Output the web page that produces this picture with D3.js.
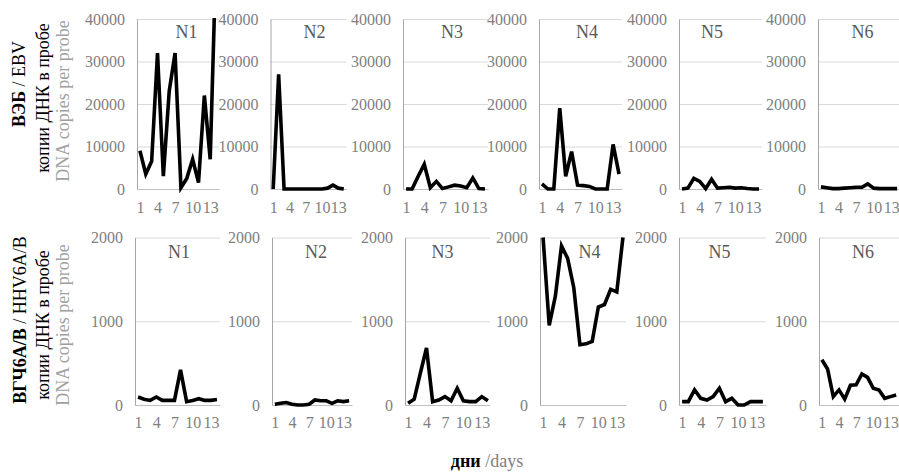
<!DOCTYPE html>
<html>
<head>
<meta charset="utf-8">
<script src="https://cdn.jsdelivr.net/npm/d3@7"></script>
<style>
body{margin:0;background:#fff;}
svg text{font-family:"Liberation Serif","DejaVu Serif","Noto Serif",serif;}
</style>
</head>
<body>
<svg id="chart" width="899" height="472"></svg>
<script>
// дни наблюдения
var days = [1,2,3,4,5,6,7,8,9,10,11,12,13,14];
var dayTicks = [1,4,7,10,13];
var panelNames = ["N1","N2","N3","N4","N5","N6"];
var serif = "'Liberation Serif', 'DejaVu Serif', serif";

// ВЭБ / EBV - копии ДНК в пробе
var ebvN1 = [9000,3500,6500,32000,3000,23000,32000,300,2500,7000,1500,22000,7000,55000];
var ebvN2 = [0,27000,0,0,0,0,0,0,0,0,200,900,200,0];
var ebvN3 = [0,0,3000,5800,300,1800,100,500,900,700,300,2600,100,0];
var ebvN4 = [1200,0,0,19000,3000,8800,900,800,600,0,0,0,10500,3500];
var ebvN5 = [0,200,2500,1800,100,2300,200,300,400,200,300,100,0,0];
var ebvN6 = [500,300,100,100,200,300,400,400,1200,200,100,100,100,100];
var ebvTicks = [0,10000,20000,30000,40000];

// ВГЧ6А/В / HHV6A/B
var hhvN1 = [95,70,55,95,55,55,55,420,40,55,75,55,55,65];
var hhvN2 = [10,20,30,10,0,0,10,60,50,50,20,50,40,50];
var hhvN3 = [20,70,380,680,40,60,100,50,200,50,40,40,100,50];
var hhvN4 = [2000,950,1300,1900,1750,1400,720,730,760,1170,1200,1380,1350,2000];
var hhvN5 = [40,40,180,80,60,100,200,40,80,0,0,40,40,40];
var hhvN6 = [540,430,100,180,70,235,240,370,330,200,180,80,100,120];
var hhvTicks = [0,1000,2000];

var svg = d3.select("#chart");

var rows = [
  {series:[ebvN1,ebvN2,ebvN3,ebvN4,ebvN5,ebvN6], ticks:ebvTicks,
   top:19, bottom:189, areaTop:0, areaBottom:228,
   lefts:[137,270.5,403,539,679,818], widths:[82,76,85,83,83,82],
   titleDx:[49.5,44,49,48,33,44.5], titleY:38, xPad:13},
  {series:[hhvN1,hhvN2,hhvN3,hhvN4,hhvN5,hhvN6], ticks:hhvTicks,
   top:237.5, bottom:405, areaTop:228, areaBottom:450,
   lefts:[135,272,405,540,679,819], widths:[85,80,86,86,87,80],
   titleDx:[44,44,37.5,49.5,40.5,44], titleY:258, xPad:12}
];

rows.forEach(function(row, r){
  var h = row.bottom - row.top;
  var yMax = row.ticks[row.ticks.length-1];
  row.series.forEach(function(vals, i){
    var left = row.lefts[i], w = row.widths[i];

    // белая область диаграммы (перекрывает соседнюю)
    svg.append("rect")
       .attr("x", left-50).attr("y", row.areaTop)
       .attr("width", w+52).attr("height", row.areaBottom-row.areaTop)
       .attr("fill", "#fff");

    var g = svg.append("g").attr("transform", "translate("+left+","+row.top+")");

    var x = d3.scalePoint().domain(days).range([0, w]).padding(0.5);
    var y = d3.scaleLinear().domain([0, yMax]).range([h, 0]);

    // сетка
    g.append("g")
     .call(d3.axisLeft(y).tickValues(row.ticks).tickSize(-w).tickFormat(""))
     .call(function(s){
       s.select(".domain").remove();
       s.selectAll("line").attr("stroke", "#d9d9d9").attr("stroke-width", 1);
     });

    // ось Y
    g.append("g")
     .call(d3.axisLeft(y).tickValues(row.ticks).tickSize(0).tickPadding(12).tickFormat(d3.format("d")))
     .call(function(s){
       s.attr("font-family", serif);
       s.select(".domain").attr("stroke", "#a6a6a6");
       s.selectAll("text").attr("fill", "#808080").attr("font-size", 16);
     });

    // ось X
    g.append("g")
     .attr("transform", "translate(0,"+h+")")
     .call(d3.axisBottom(x).tickValues(dayTicks).tickSize(0).tickSizeOuter(0).tickPadding(row.xPad))
     .call(function(s){
       s.attr("font-family", serif);
       s.select(".domain").attr("stroke", "#bfbfbf");
       s.selectAll("text").attr("fill", "#808080").attr("font-size", 16);
     });

    // заголовок
    svg.append("text")
       .attr("x", left + row.titleDx[i]).attr("y", row.titleY)
       .attr("text-anchor", "middle")
       .attr("font-family", serif)
       .attr("font-size", 18).attr("fill", "#595959")
       .text(panelNames[i]);

    var clipId = "clip"+r+"_"+i;
    g.append("clipPath").attr("id", clipId)
     .append("rect").attr("x", -4).attr("y", -1).attr("width", w+8).attr("height", h+5);

    var line = d3.line()
                 .x(function(d, k){ return x(days[k]); })
                 .y(function(d){ return y(d); });

    g.append("path")
     .datum(vals)
     .attr("clip-path", "url(#"+clipId+")")
     .attr("d", line)
     .attr("fill", "none")
     .attr("stroke", "#000")
     .attr("stroke-width", 3.6);
  });
});

// подписи осей
function vLabel(xPos, yPos, parts){
  var t = svg.append("text")
             .attr("transform", "translate("+xPos+","+yPos+") rotate(-90)")
             .attr("text-anchor", "middle")
             .attr("font-family", serif)
             .attr("font-size", 18);
  parts.forEach(function(p){
    t.append("tspan").text(p[0])
     .attr("font-weight", p[1] ? "bold" : "normal")
     .attr("fill", p[2]);
  });
}
vLabel(25, 84, [["ВЭБ", true, "#000"], [" / EBV", false, "#000"]]);
vLabel(49, 98, [["копии ДНК в пробе", false, "#000"]]);
vLabel(68.5, 101, [["DNA copies per probe", false, "#a0a0a0"]]);

vLabel(26, 320, [["ВГЧ6А/В", true, "#000"], [" / HHV6A/B", false, "#000"]]);
vLabel(49, 325, [["копии ДНК в пробе", false, "#000"]]);
vLabel(68.5, 325, [["DNA copies per probe", false, "#a0a0a0"]]);

var xl = svg.append("text")
            .attr("x", 487).attr("y", 467)
            .attr("text-anchor", "middle")
            .attr("font-family", serif)
            .attr("font-size", 18);
xl.append("tspan").text("дни").attr("font-weight", "bold").attr("fill", "#000");
xl.append("tspan").text(" /days").attr("fill", "#808080");
</script>
</body>
</html>
